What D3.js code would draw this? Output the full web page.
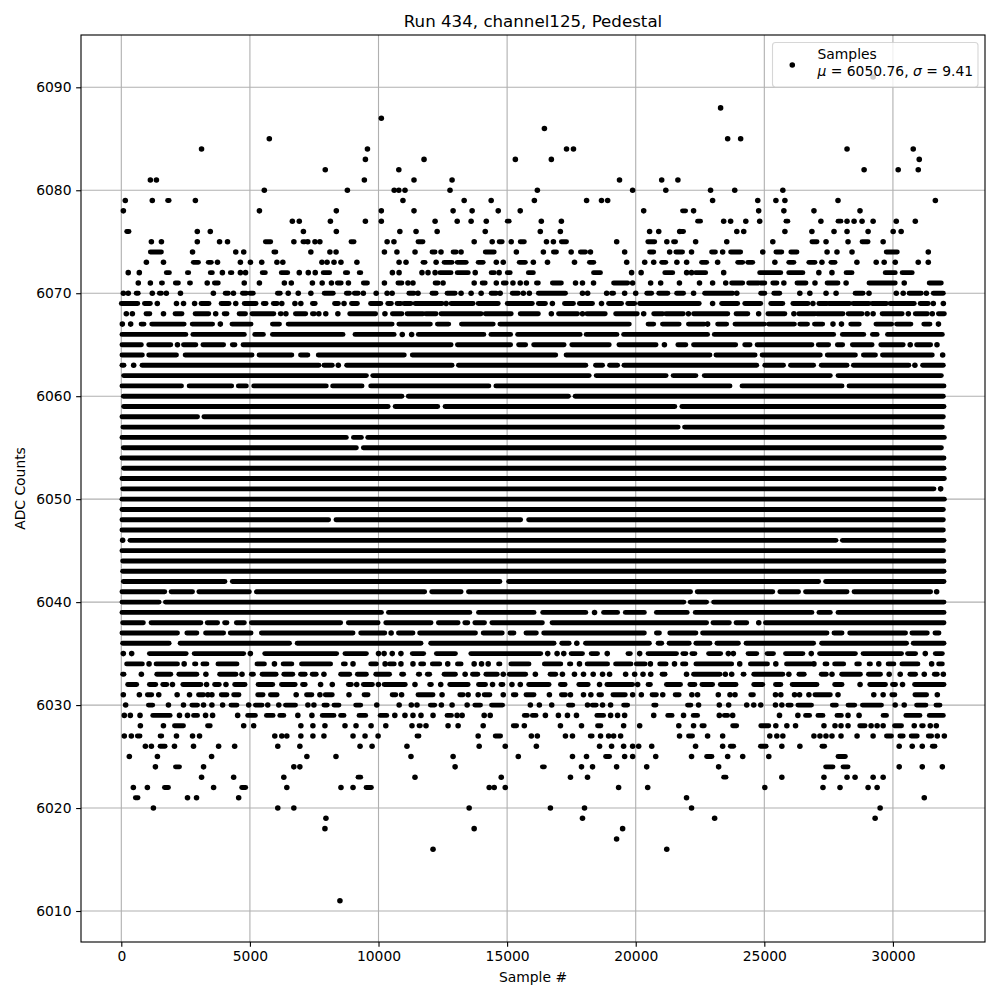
<!DOCTYPE html>
<html>
<head>
<meta charset="utf-8">
<script src="https://cdn.jsdelivr.net/npm/d3@7"></script>
<style>
  html, body { margin: 0; padding: 0; background: #fff; }
  text { font-family: "DejaVu Sans", sans-serif; fill: #000; }
</style>
</head>
<body>
<div id="container"></div>
<script>
// Tick labels
const xTicks = [0, 5000, 10000, 15000, 20000, 25000, 30000];
const yTicks = [6010, 6020, 6030, 6040, 6050, 6060, 6070, 6080, 6090];

const titleText = 'Run 434, channel125, Pedestal';
const xLabel = 'Sample #';
const yLabel = 'ADC Counts';
const legendName = 'Samples';
const legendMu = '6050.76';
const legendSigma = '9.41';

// Each row is [ADC count, entries]. An entry is one sample number, or [first, last]
// for a run where the picture shows dots merged into a solid band.
const upperRows = [
  [6091, [29230]],
  [6088, [23300]],
  [6087, [10110]],
  [6086, [16450]],
  [6085, [5755, 23575, 24080]],
  [6084, [3120, 9570, 17310, 17580, 28216, 30790]],
  [6083, [9490, 11770, 15320, 16720, 31024]],
  [6082, [7930, 10790, 28880, 30205, 30985]],
  [6081, [1130, 1365, 9450, 11380, 12860, 19370, 21010, 21640]],
  [6080, [5560, 8790, 10610, 10790, 11030, 12780, 16176, 19880, 21170, 22910, 23850, 25720]],
  [6079, [155, 1205, [1800, 1860], 2880, 10950, 13330, 14380, 16060, 18090, 18670, 18910, 22990, 24745, 25450, 25800, 27865, 31650]],
  [6078, [80, 5370, 8360, 10110, 11380, 12900, 13640, 14655, 15510, 20310, [21820, 21940], 22250, 24780, 25760, 26930, 28720]],
  [6077, [6650, 6920, 8130, 9490, 10110, 12200, 13060, 13600, 14190, [15006, 15080], 16330, 17110, [22405, 22520], 23420, 23690, 24280, 24820, [25840, 25915], 27200, [27865, 27980], 28216, 28490, 28800, 29230, 30130, 30870]],
  [6076, [[210, 300], 2955, 3460, 7080, 8360, 10830, 11460, 12280, 14150, 16290, 17070, 20540, 20895, 21710, [21780, 21860], 23930, 24200, 25800, 26850, 27710, 28216, 29035, 30010, 30320]],
  [6075, [1170, 1560, 2955, 3820, 4130, [5600, 5810], 6710, [7060, 7140], 7250, 7530, 7720, [8930, 9050], 10335, 10600, [11535, 11730], 13720, 14420, [14690, 14810], 15160, [15510, 15670], 16530, 16800, [17110, 17310], 19260, [20470, 20740], 21210, [21470, 21550], 22330, 23540, 25330, [26850, 27050], 27400, 28255, [28800, 29035], 29620]],
  [6074, [[1130, 1560], 2770, 4450, 4760, [5930, 6010], 7370, 8110, 8350, 10230, 10716, 11420, [12080, 12200], 12430, [12900, 13020], 13210, [14150, 14500], 15360, 16410, [16800, 16920], 17490, [17850, 18050], 18240, 19570, [20540, 20700], 21320, [21560, 21820], 22170, [22950, 23100], 23380, [23690, 24080], 24940, [25450, 25680], [26030, 26270], 27440, 27825, 28410, [29740, 30170], 31375]],
  [6073, [975, 1640, [2800, 3000], [3380, 3500], 3740, 4630, 5020, 5460, 6050, 6280, 7800, 8000, 8270, 8540, 9160, 10800, 11070, [11730, 11810], 12240, [12550, 12860], [13060, 13410], [13875, 14070], 14580, 14850, [15470, 15710], 16020, 16570, 17620, [18200, 18370], 19650, 20350, 20700, [21010, 21170], 21600, 21980, [22560, 22760], 23185, [23965, 24160], [24355, 24550], 25410, [25950, 26150], [26730, 26970], 27240, [27590, 27750], 28600, 29350, 29660, 30090, 30985, 31375]],
  [6072, [270, 700, [1750, 1870], [2570, 2620], [3460, 3540], 3930, [4240, 4300], 4630, 4830, [5480, 5600], [6220, 6470], 6920, 7270, 7540, [7850, 8100], [8710, 8800], [9250, 9310], 10540, 10800, 11690, 11925, 12200, [12390, 12820], [13060, 13490], 13760, [14380, 14500], 14690, [15006, 15120], [15825, 16020], [18360, 18630], 19840, 20210, [21130, 21440], 21980, 22170, [22330, 22720], 23420, [24820, 25640], [25950, 26500], 27120, 27630, [28180, 28410], [29700, 30090], [30360, 30750]]],
  [6071, [660, 1130, [1560, 1600], [2100, 2220], [2650, 2690], 3340, [3620, 3770], 4780, 5370, 6340, 6610, 7430, 7810, 8170, [8400, 8550], 8830, [9410, 9570], 10230, [10755, 10910], 11145, 11340, [12200, 12315], 12510, 13720, [14030, 14150], 14580, [14850, 14965], 15227, 15510, 15750, [16140, 16215], [16760, 17110], 17660, 17930, 18360, [19140, 19690], 19880, 20580, 20970, 21700, 22480, 22990, 23500, [23730, 24160], [24390, 24780], [24860, 25018], [25330, 25490], 25760, [26270, 26620], 26970, [27440, 27865], 28180, [29070, 30090], 30440, [31410, 31880]]],
  [6070, [80, 270, [580, 660], 1205, [1480, 1560], 1750, 2300, 3580, [4040, 4160], 4360, [4710, 4860], [5000, 5130], [6070, 6180], 6490, 6880, 7370, [7890, 8240], [8750, 8870], [9060, 9210], 9410, 9910, 10335, 10530, [11180, 11380], 11535, [12080, 12240], [12666, 12980], 13210, 13600, 13990, [14380, 14580], 14730, [15200, 15435], 15630, 15864, [16215, 17270], 17930, 18130, 18870, [19060, 19140], 19570, 20000, [20430, 20620], [20895, 21250], [21590, 21860], 22250, [22680, 23770], 23930, [24860, 25018], [25370, 25600], 26380, 26770, 27400, 27790, [28530, 28840], 29070, 30130, 30400, [30630, 31100], 31300, [31570, 31960]]],
  [6069, [[0, 640], [900, 1130], 1400, 2145, 2420, 2850, [3100, 3410], [3880, 4190], 4450, [4780, 5240], [5520, 5630], [5910, 6060], 6240, 6750, 6980, [7430, 7540], [8290, 8440], 8660, [8950, 9180], [9690, 10090], [10360, 10500], [10720, 10870], [10990, 11260], [11420, 12470], 12630, [12820, 13680], [13875, 14655], [15006, 15980], [16215, 16490], 16760, [17230, 17580], [17810, 18320], 18670, [18945, 19450], [19690, 19960], [20150, 22470], 22990, [23340, 23965], [24240, 24860], [25250, 25720], [26110, 26700], 26890, [27120, 27440], [27510, 28320], [28450, 29070], [29190, 29750], [29890, 30830], [31060, 31375], 31570, 31960]],
  [6068, [195, 430, [960, 1110], 1640, [2090, 2360], [2870, 3400], 3670, [4000, 4110], [4580, 4830], [5080, 5930], [6180, 6220], 6400, [6770, 7170], [7430, 7510], 7680, 7950, 8420, [8880, 9890], 10250, [10540, 10910], [11110, 11730], [11834, 12240], [12430, 13990], [14150, 15160], [15510, 16215], 16720, [17000, 17740], 17930, [18100, 18815], [19220, 20060], 20310, [20700, 21050], [21170, 21850], 22050, [22250, 23580], [23900, 24360], 24780, [25140, 25800], 26150, [26340, 26970], [27050, 28060], [28260, 28800], 29000, 29230, [29580, 30360], 30600, [30870, 31340], 31530, [31770, 32000]]]
];

const denseRows = [
  [6067, [40, 364, [770, 884], [1183, 2444], [2756, 3550], 3850, [4303, 5044], [5876, 6150], [6487, 10530], [10790, 12016], [12290, 12730], [13225, 14460], [14720, 19750], [20480, 20700], [21040, 21690], [22050, 22665], 22795, [23185, 23536], [23860, 25000], [25160, 26170], [26380, 26680], [26950, 27270], 27670, 28000, [28360, 28690], [29340, 29950], [30140, 30700], [31200, 31440], 31770]],
  [6066, [[26, 2510], [2782, 4784], [5187, 5525], [5876, 8620], [9087, 10608], 10924, 11288, [11548, 14096], [14370, 15136], [15409, 17840], [18074, 19270], [19530, 22795], [23055, 27696], [28034, 28866], [29204, 29386], [29790, 31921]]],
  [6065, [[26, 780], [1066, 1924], 2184, [2418, 2899], [3172, 3978], [4316, 4420], [4732, 12822], [13069, 15136], [15448, 15721], [16033, 17216], [17515, 18971], [19348, 20791], 21116, [21638, 21950], [22249, 23887], [24238, 24446], [24719, 26851], [27098, 27501], [27839, 28047], [28424, 29191], [29529, 30400], 30673, [30920, 31466], 31713]],
  [6064, [[26, 819], [1066, 2145], [2483, 5083], [5356, 6630], [6968, 7254], [7657, 11002], [11314, 16891], [17294, 22886], [23120, 24641], [24914, 27176], [27449, 28541], [28853, 29321], [29594, 31531], 31934]],
  [6063, [[26, 104], 481, [806, 7683], [7878, 8203], 8437, [8762, 12861], [13108, 18061], [18438, 18711], [18984, 19296], [19543, 24706], [25018, 25746], [26019, 26916], [27215, 28216], [28463, 30621], 30855, [31154, 31960]]],
  [6062, [[91, 9529], [9776, 18191], [18464, 21181], [21454, 22340], [22665, 27566], [27865, 31882]]],
  [6061, [[26, 2340], [2639, 4290], [4550, 4862], [5148, 7969], [8216, 9360], [9698, 14291], [14564, 23666], [24134, 28021], [28294, 31986]]],
  [6060, [[78, 10911], [11158, 17385], [17645, 31960]]],
  [6059, [[91, 10374], [10647, 12302], [12588, 21521], [21794, 31986]]],
  [6058, [[26, 2964], [3211, 31960]]],
  [6057, [[61, 21651], [21898, 31921]]],
  [6056, [[26, 8749], [9026, 9334], [9581, 32000]]],
  [6055, [[78, 9139], [9412, 31885]]],
  [6054, [[26, 31986]]],
  [6053, [[91, 31986]]],
  [6052, [[26, 32000]]],
  [6051, [[52, 31596], 31856]],
  [6050, [[26, 32000]]],
  [6049, [[26, 31960]]],
  [6048, [[26, 8060], [8346, 15526], [15838, 31960]]],
  [6047, [[26, 31960]]],
  [6046, [52, [338, 27787], [28034, 31986]]],
  [6045, [[26, 31960]]],
  [6044, [[52, 31986]]],
  [6043, [[52, 31986]]],
  [6042, [[78, 4030], [4316, 14720], [15058, 27111], [27384, 31986]]],
  [6041, [[26, 1690], [1937, 2769], [3016, 4979], [5252, 11795], [12068, 13212], [13498, 22132], [22392, 25330], [25603, 26331], [26604, 28216], [28489, 31466], 31700]],
  [6040, [[26, 1469], [1716, 21872], [22119, 22756], [23029, 31986]]],
  [6039, [[26, 10114], [10387, 13550], [13888, 16046], [16384, 18061], 18399, [18750, 19296], [19595, 20336], [20804, 22002], [22314, 26851], [27124, 27566], [27865, 31986]]],
  [6038, [[52, 858], [1157, 3094], [3341, 3744], [4017, 4108], [4472, 4784], [5057, 8528], [8827, 9984], [10283, 12042], [12328, 13095], [13355, 13472], [13745, 14122], [14408, 16371], [16748, 22756], [23003, 23640], [23900, 24316], 24784, [25044, 31986]]],
  [6037, [[26, 2184], [2548, 2938], [3276, 3978], [4238, 5044], [5447, 9009], [9308, 10244], 10491, [10777, 11340], [11600, 13771], [14070, 14811], [15110, 15266], [15734, 16137], [16423, 20336], [20804, 20921], [21324, 22340], [22600, 27436], [27709, 28021], [28320, 30491], [30738, 31336], [31635, 31791]]],
  [6036, [[52, 1859], [2288, 6539], [6838, 11652], [12029, 16826], [17125, 17411], 17710, [18048, 20531], [20869, 21012], [21298, 22080], [22340, 22886], [23159, 23991], [24290, 26916], [27228, 30530], [30790, 31986]]]
];

const lowerRows = [
  [6035, [78, 403, [1092, 2522], [2834, 4758], 5018, [5577, 8372], [8697, 9529], 10000, 10218, 10534, 10872, [11314, 11756], [12250, 12991], [13589, 16306], 16579, 16943, 17203, [17489, 17931], [18269, 18516], 18893, [19699, 19790], 20154, [20479, 21586], [21833, 21950], [22184, 22301], [22834, 23302], 23601, 23796, [24368, 24706], [25109, 25356], [25824, 26500], 26825, [27150, 28541], [28840, 30335], [30569, 30881], 31258, [31648, 31921]]],
  [6034, [[208, 819], 1079, [1352, 2184], 2444, [2847, 2899], [3172, 3328], [3757, 4498], [5278, 5564], 5954, [6292, 6630], [7007, 8138], [8632, 8710], 9009, [9698, 9919], 10257, [10430, 10612], 10872, 11340, [11639, 11756], [12094, 12380], 12692, [13069, 13212], 13719, 14005, 14265, [14668, 14720], [15149, 15851], [16449, 17086], [17424, 17476], 17814, [18113, 18906], [19218, 19816], [20024, 20362], 20570, [20934, 21181], 21508, [21820, 21950], [22340, 23731], 24043, [24459, 25122], 25447, [25863, 26825], 26929, [27358, 27436], [27735, 28086], [28593, 28697], [29074, 29126], 29451, [29815, 30036], [30348, 30972], 31505, [31778, 31921]]],
  [6033, [[52, 104], 780, [1378, 1924], [2236, 2938], 3289, [3822, 4459], 4693, [5057, 5135], [5473, 6019], [6318, 6669], [6968, 7150], [7423, 7579], 7878, [8528, 8879], [9178, 9529], [9893, 10430], [10898, 10976], [11548, 11600], [11899, 11990], [12549, 12991], 13368, [13654, 13862], [14174, 14616], 14850, [15084, 15721], 16098, [16670, 16891], 17151, 17619, 17970, 18347, 18711, 18984, 19608, 19959, 20284, 20583, [21025, 21142], 21976, [22249, 23276], 23484, 23731, [24173, 24212], [24589, 25720], 25954, [26344, 26552], [27215, 27410], 27631, [28008, 28736], [29048, 29516], 29854, 30283, [30660, 30881], 31219, [31609, 31726], 31960]],
  [6032, [[247, 598], [1092, 1339], [1612, 1768], 1989, [2392, 3094], 3315, [3627, 3809], 4069, [4407, 4810], [5317, 5889], [6227, 6760], [7046, 7150], 7748, 8203, [8827, 8944], 9152, [9412, 9763], 9997, [10218, 11041], 11418, [11990, 12055], 12419, [12770, 13485], [13888, 14161], 14434, [14759, 14837], 15188, 15513, [15838, 16631], [17073, 17255], [17788, 18152], 18594, [18880, 19881], 20076, [20479, 20570], [21194, 21742], [22106, 22301], [22574, 22990], [23289, 23900], [24589, 24940], [25434, 25642], [26084, 27046], [27735, 28021], 28723, [29100, 29711], [29984, 30101], 30374, [30842, 31986]]],
  [6031, [78, 702, [1014, 1183], 1456, 2171, 2652, [3003, 3198], 3367, 3523, [3887, 4108], [4368, 4576], [5304, 5512], [5798, 6058], 6799, [7202, 7410], 7722, [7930, 8203], 8853, [9438, 9594], [10530, 10673], 10898, [11535, 12120], 12471, [13160, 13290], 13485, 13875, [14109, 14330], 14850, [15240, 15344], [15734, 16046], 16644, [17112, 17268], 17463, 17970, 18256, [18568, 18672], [19114, 19595], 19881, 20219, [20635, 20804], 21051, [21534, 21690], 22184, 22405, 23211, 23666, 23861, [24472, 24576], 25434, 25642, 26175, 26370, 26734, [26968, 27566], 27865, 29256, 29620, [29958, 30075], [30855, 31310], 31726]],
  [6030, [169, [1053, 1222], 1833, 2418, [2743, 2964], 3198, 3523, 3939, [4264, 4498], 4953, [5213, 5473], 5694, 6123, [6383, 6773], 7254, 7488, [7878, 8008], [8268, 8463], [9113, 9308], 9932, 10803, 11275, 11496, [12016, 12185], 12445, 12861, 13446, [13745, 13966], [14395, 14824], 15903, 16254, 16735, [17385, 17554], 18126, [18308, 18464], 18711, 19023, [19530, 19686], [20700, 20791], [22015, 22145], 22444, 23250, 23614, 24316, 24589, 24862, 25434, 25681, [25915, 26045], [26305, 26835], [27644, 27800], [28255, 28515], [28814, 29555], 30088, 30439, [30920, 31284], [31674, 31830]]],
  [6029, [117, 351, 728, [1222, 1898], 2262, 2574, [2808, 2964], 3276, 3549, 4524, [4914, 5213], [5642, 5902], [6162, 6318], 6864, 7410, [7813, 8268], [8528, 8658], [9243, 9503], [10062, 10322], 10634, 11028, 11340, 11652, 12120, [12666, 12835], 13056, 13251, 14109, 14343, [15669, 15786], [15981, 16124], 16488, 16995, 17346, 17697, [18490, 18750], 19023, 19296, 19569, 20700, [21246, 21415], 21859, [22236, 22405], 23250, [23445, 23575], 23770, 25590, 26305, [26604, 26760], [27085, 27280], [27826, 27995], 28255, 28684, [29620, 29750], [30504, 31050], [31414, 31960]]],
  [6028, [741, 1638, [2067, 2418], [3354, 3458], 4758, 5148, 6981, 7449, 7917, 8697, 9126, 9711, 10283, 11301, [11574, 11626], 11847, 12705, 13095, 14070, [15240, 15370], 15669, 17073, 17892, [18516, 18646], 19530, 20154, 21675, 22249, [22574, 22665], [23770, 23926], [24862, 25174], 25447, 25876, 26214, 27319, 27748, 27982, 28255, [28710, 28918], 29152, 29386, 29620, [30062, 30335], 30829, [31115, 31180], 31453, 31687]],
  [6027, [117, 390, [624, 728], [1508, 1573], 2145, 2769, 3042, 5967, 6240, 6435, 6981, 7449, 7878, 9009, 9477, 9984, [11496, 11574], 13875, [14538, 14746], 15942, 16176, 17268, 17541, [18230, 18308], 18633, 18945, 19140, 19413, 21703, [22054, 22210], 22795, 23380, 25213, 25486, 25720, 26929, 27163, 27397, 27631, 27982, 28606, 29230, [29750, 29945], [30270, 30400], [30712, 30946], [31375, 31505], 31726, 31999]],
  [6026, [936, 1170, [1508, 1703], 2067, 2808, 3783, 4407, 6084, 6942, 9282, 9750, 11106, 13914, 14928, 16137, 18594, 19062, 19530, 19881, 20115, 20622, 22327, 23380, [23679, 23809], [24849, 25070], 25681, 26383, [27241, 27345], 30244, 30751, 31141, [31531, 31635]]],
  [6025, [312, 1404, 3510, 7215, 8346, 11262, 12900, 15435, 17541, 18087, [18828, 18984], 19569, 19881, 20778, 22171, [22756, 22964], 23575, 24160, 25174, [27865, 28151]]],
  [6024, [1326, [2106, 2262], 3198, 6708, 6942, 12978, [16371, 16449], 17892, 18321, 19257, 20427, 23224, [27384, 27670], [28060, 28255], 30244, 31141, 31921]],
  [6023, [3120, 4368, 6318, [9204, 9308], 11418, 14772, 17463, 18126, [23419, 23510], 25681, 27319, 28216, 28528, 29230, 29620]],
  [6022, [468, 1014, [1677, 1833], 3588, [4680, 4836], 6435, 8541, 9009, [9516, 9724], 14304, 14499, 14928, 19335, 20466, 25018, 27280, 27943, 29035, 29386]],
  [6021, [[546, 650], 2574, 2925, 4563, 21976, 31219]],
  [6020, [1248, 6084, 6708, 13524, 16683, 18009, 22171, 29503]],
  [6019, [7956, 17931, 23068, 29308]],
  [6018, [7917, 13719, 19491]],
  [6017, [19257]],
  [6016, [12120, 21207]],
  [6011, [8500]]
];

// Flatten the rows into one list of marks
const marks = [];
[upperRows, denseRows, lowerRows].forEach(group => {
  group.forEach(([adc, entries]) => {
    entries.forEach(e => {
      const span = Array.isArray(e) ? e : [e, e];
      marks.push({ adc: adc, first: span[0], last: span[1] });
    });
  });
});

const width = 1000;
const height = 1000;
const plotLeft = 81, plotRight = 985, plotTop = 35, plotBottom = 942;
const dotRadius = 2.78;
const bandWidth = 4.9;  // merged dots have scalloped edges, so a band reads a bit thinner than a dot

const x = d3.scaleLinear().domain([-1567, 33580]).range([plotLeft, plotRight]);
const y = d3.scaleLinear().domain([6006.99, 6095.08]).range([plotBottom, plotTop]);

const svg = d3.select('#container')
  .append('svg')
  .attr('width', width)
  .attr('height', height)
  .style('display', 'block');

// Grid
svg.append('g').selectAll('line')
  .data(xTicks)
  .enter().append('line')
  .attr('x1', d => x(d)).attr('x2', d => x(d))
  .attr('y1', plotTop).attr('y2', plotBottom)
  .attr('stroke', '#b0b0b0').attr('stroke-width', 1.11);
svg.append('g').selectAll('line')
  .data(yTicks)
  .enter().append('line')
  .attr('x1', plotLeft).attr('x2', plotRight)
  .attr('y1', d => y(d)).attr('y2', d => y(d))
  .attr('stroke', '#b0b0b0').attr('stroke-width', 1.11);

// Single samples are dots, merged runs are round-capped bands
svg.append('g').selectAll('circle')
  .data(marks.filter(d => d.first === d.last))
  .enter().append('circle')
  .attr('cx', d => x(d.first))
  .attr('cy', d => y(d.adc))
  .attr('r', dotRadius)
  .attr('fill', '#000');
svg.append('g').selectAll('line')
  .data(marks.filter(d => d.first !== d.last))
  .enter().append('line')
  .attr('x1', d => x(d.first)).attr('x2', d => x(d.last))
  .attr('y1', d => y(d.adc)).attr('y2', d => y(d.adc))
  .attr('stroke', '#000')
  .attr('stroke-width', bandWidth)
  .attr('stroke-linecap', 'round');

// Axes
const xAxis = svg.append('g')
  .attr('transform', `translate(0,${plotBottom})`)
  .call(d3.axisBottom(x).tickValues(xTicks).tickFormat(d3.format('d')).tickSize(4.86).tickSizeOuter(0));
const yAxis = svg.append('g')
  .attr('transform', `translate(${plotLeft},0)`)
  .call(d3.axisLeft(y).tickValues(yTicks).tickFormat(d3.format('d')).tickSize(4.86).tickSizeOuter(0));
[xAxis, yAxis].forEach(a => {
  a.selectAll('.domain').remove();
  a.selectAll('line').attr('stroke', '#000').attr('stroke-width', 1.11);
  a.selectAll('text').style('font-family', '"DejaVu Sans"').style('font-size', '13.89px').attr('fill', '#000');
});
xAxis.selectAll('text').attr('y', 9.5);
yAxis.selectAll('text').attr('x', -9.5);

// Frame
svg.append('rect')
  .attr('x', plotLeft).attr('y', plotTop)
  .attr('width', plotRight - plotLeft).attr('height', plotBottom - plotTop)
  .attr('fill', 'none').attr('stroke', '#000').attr('stroke-width', 1.11);

// Titles
svg.append('text')
  .attr('x', (plotLeft + plotRight) / 2).attr('y', 27)
  .attr('text-anchor', 'middle')
  .style('font-size', '16.67px')
  .text(titleText);
svg.append('text')
  .attr('x', (plotLeft + plotRight) / 2).attr('y', 982)
  .attr('text-anchor', 'middle')
  .style('font-size', '13.89px')
  .text(xLabel);
svg.append('text')
  .attr('transform', `translate(25,${(plotTop + plotBottom) / 2}) rotate(-90)`)
  .attr('text-anchor', 'middle')
  .style('font-size', '13.89px')
  .text(yLabel);

// Legend
const legend = svg.append('g');
legend.append('rect')
  .attr('x', 772.5).attr('y', 42.5)
  .attr('width', 205.5).attr('height', 44.5)
  .attr('rx', 3)
  .attr('fill', '#fff').attr('fill-opacity', 0.8)
  .attr('stroke', '#ccc').attr('stroke-opacity', 0.8).attr('stroke-width', 1.11);
legend.append('circle')
  .attr('cx', 792.3).attr('cy', 65)
  .attr('r', dotRadius)
  .attr('fill', '#000');
legend.append('text')
  .attr('x', 817.5).attr('y', 59.3)
  .style('font-size', '13.89px')
  .text(legendName);
const legendLine = legend.append('text')
  .attr('x', 817.5).attr('y', 75.7)
  .style('font-size', '13.89px');
legendLine.append('tspan').style('font-style', 'italic').text('\u03bc');
legendLine.append('tspan').text(` = ${legendMu}, `);
legendLine.append('tspan').style('font-style', 'italic').text('\u03c3');
legendLine.append('tspan').text(` = ${legendSigma}`);
</script>
</body>
</html>
